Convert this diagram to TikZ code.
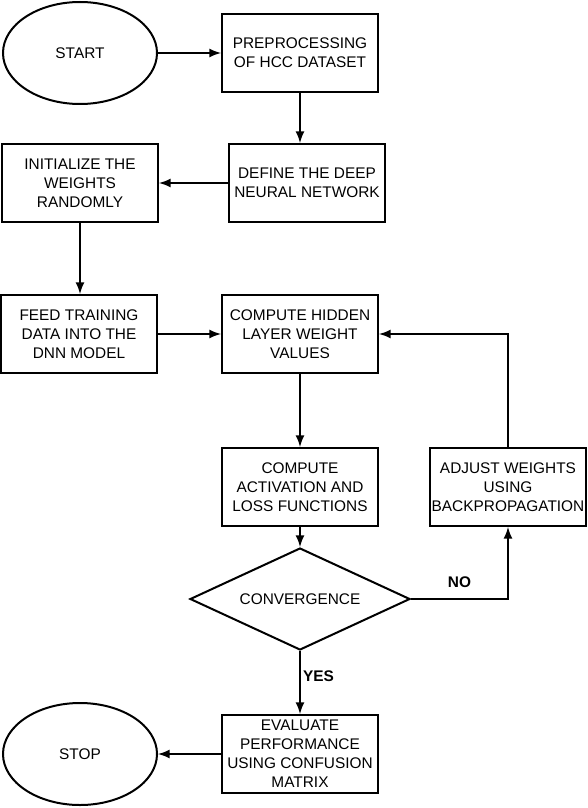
\documentclass[tikz,border=0pt]{standalone}
\usepackage{fontspec}
\setmainfont{Liberation Sans}
\usetikzlibrary{shapes,arrows,positioning,calc}

\begin{document}
\begin{tikzpicture}[
    x=0.5pt, y=-0.5pt,
    every node/.style={font=\fontsize{7.7}{9.5}\selectfont, align=center},
    box/.style={draw, line width=1pt, minimum width=78pt, minimum height=39pt, inner sep=1pt},
    terminal/.style={draw, ellipse, line width=1pt, minimum width=77pt, minimum height=51pt, inner sep=0pt},
    decision/.style={draw, diamond, aspect=2.2, line width=1pt, minimum width=110pt, minimum height=51pt, inner sep=0pt},
    flow/.style={line width=1pt, -latex},
    answer/.style={font=\fontsize{7.7}{9.5}\selectfont\bfseries}
]
\useasboundingbox (0,0) rectangle (588,808);

% Start and preprocessing
\node[terminal] (start) at (80,53) {START};
\node[box] (prep) at (300,53) {PREPROCESSING\\OF HCC DATASET};

% Network set-up
\node[box] (define) at (307,183) {DEFINE THE DEEP\\NEURAL NETWORK};
\node[box] (init) at (80,183) {INITIALIZE THE\\WEIGHTS\\RANDOMLY};
\node[box] (feed) at (79,334) {FEED TRAINING\\DATA INTO THE\\DNN MODEL};

% Training loop
\node[box] (hidden) at (300,334) {COMPUTE HIDDEN\\LAYER WEIGHT\\VALUES};
\node[box] (activ) at (300,487) {COMPUTE\\ACTIVATION AND\\LOSS FUNCTIONS};
\node[box] (adjust) at (508,487) {ADJUST WEIGHTS\\USING\\BACKPROPAGATION};
\node[decision] (conv) at (300,599) {CONVERGENCE};

% Evaluation and stop
\node[box] (eval) at (300,754) {EVALUATE\\PERFORMANCE\\USING CONFUSION\\MATRIX};
\node[terminal] (stop) at (80,754) {STOP};

% Connectors
\draw[flow] (start) -- (prep);
\draw[flow] (prep.south) -- (prep.south |- define.north);
\draw[flow] (define) -- (init);
\draw[flow] (init.south) -- (init.south |- feed.north);
\draw[flow] (feed) -- (hidden);
\draw[flow] (hidden) -- (activ);
\draw[flow] (activ) -- (conv);
\draw[flow] (conv.east) -- node[answer, above=2pt] {NO} (adjust.south |- conv.east) -- (adjust.south);
\draw[flow] (adjust.north) |- (hidden.east);
\draw[flow] (conv.south) -- node[answer, pos=0.4, right, inner sep=1pt] {YES} (eval.north);
\draw[flow] (eval) -- (stop);

\end{tikzpicture}
\end{document}
